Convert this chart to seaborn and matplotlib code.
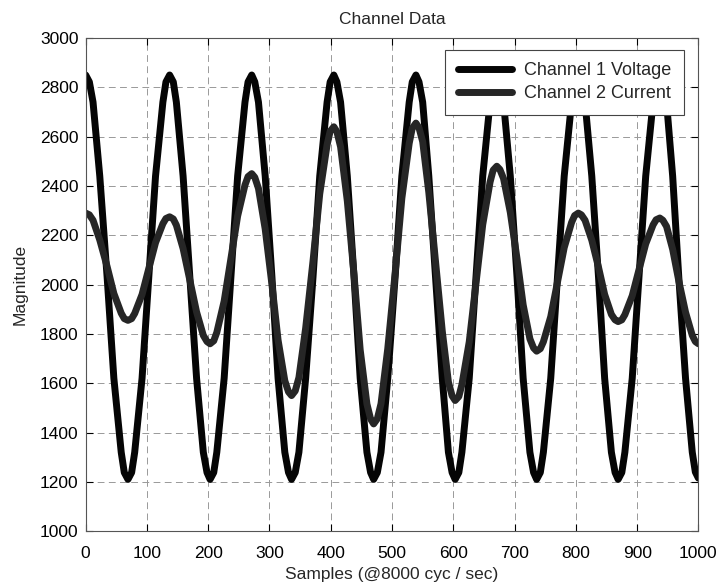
import numpy as np
import pandas as pd
import matplotlib
matplotlib.use("Agg")
import matplotlib.pyplot as plt
import seaborn as sns

# Sample positions (extremes plus intermediate points)
samples = [0, 6, 12, 23, 35, 46, 58, 63, 69,
           75, 80, 92, 103, 114, 126, 131, 137,
           143, 148, 159, 170, 181, 192, 198, 203,
           209, 214, 226, 237, 248, 260, 265, 271,
           276, 282, 293, 304, 314, 325, 331, 336,
           342, 348, 359, 371, 382, 394, 399, 405,
           410, 416, 427, 438, 448, 459, 465, 470,
           476, 482, 493, 505, 516, 528, 533, 539,
           544, 550, 560, 571, 582, 592, 598, 603,
           609, 614, 626, 637, 648, 660, 665, 671,
           676, 682, 693, 704, 714, 725, 731, 736,
           742, 747, 759, 770, 781, 793, 798, 804,
           809, 815, 826, 837, 847, 858, 864, 869,
           875, 880, 892, 903, 914, 926, 931, 937,
           942, 948, 958, 968, 979, 990, 995, 1000]

voltage = [2850, 2822, 2740, 2440, 2030, 1620, 1320, 1238, 1210,
           1238, 1320, 1620, 2030, 2440, 2740, 2822, 2850,
           2822, 2740, 2440, 2030, 1620, 1320, 1238, 1210,
           1238, 1320, 1620, 2030, 2440, 2740, 2822, 2850,
           2822, 2740, 2440, 2030, 1620, 1320, 1238, 1210,
           1238, 1320, 1620, 2030, 2440, 2740, 2822, 2850,
           2822, 2740, 2440, 2030, 1620, 1320, 1238, 1210,
           1238, 1320, 1620, 2030, 2440, 2740, 2822, 2850,
           2822, 2740, 2440, 2030, 1620, 1320, 1238, 1210,
           1238, 1320, 1620, 2030, 2440, 2740, 2822, 2850,
           2822, 2740, 2440, 2030, 1620, 1320, 1238, 1210,
           1238, 1320, 1620, 2030, 2440, 2740, 2822, 2850,
           2822, 2740, 2440, 2030, 1620, 1320, 1238, 1210,
           1238, 1320, 1620, 2030, 2440, 2740, 2822, 2850,
           2822, 2740, 2440, 2030, 1620, 1320, 1240, 1215]

current = [2290, 2283, 2261, 2181, 2073, 1964, 1884, 1862, 1855,
           1862, 1883, 1960, 2065, 2170, 2247, 2268, 2275,
           2266, 2241, 2146, 2018, 1889, 1794, 1769, 1760,
           1772, 1806, 1933, 2105, 2278, 2404, 2438, 2450,
           2435, 2390, 2225, 2000, 1775, 1610, 1565, 1550,
           1569, 1623, 1823, 2095, 2368, 2567, 2622, 2640,
           2620, 2559, 2339, 2038, 1736, 1516, 1455, 1435,
           1456, 1517, 1740, 2045, 2350, 2573, 2634, 2655,
           2636, 2580, 2374, 2093, 1811, 1605, 1549, 1530,
           1546, 1594, 1768, 2005, 2243, 2416, 2464, 2480,
           2467, 2430, 2293, 2105, 1918, 1780, 1743, 1730,
           1740, 1768, 1870, 2010, 2150, 2252, 2280, 2290,
           2283, 2261, 2180, 2070, 1960, 1879, 1857, 1850,
           1857, 1878, 1955, 2060, 2165, 2242, 2263, 2270,
           2261, 2236, 2143, 2015, 1888, 1794, 1769, 1760]

series_names = ["Channel 1 Voltage", "Channel 2 Current"]
x_ticks = [0, 100, 200, 300, 400, 500, 600, 700, 800, 900, 1000]
y_ticks = [1000, 1200, 1400, 1600, 1800, 2000, 2200, 2400, 2600, 2800, 3000]

df = pd.concat([
    pd.DataFrame({"Samples": samples, "Magnitude": voltage, "Series": series_names[0]}),
    pd.DataFrame({"Samples": samples, "Magnitude": current, "Series": series_names[1]}),
], ignore_index=True)

sns.set_theme(style="white")
plt.rcParams["font.family"] = ["Liberation Sans", "DejaVu Sans"]

fig = plt.figure(figsize=(7.2, 5.85), dpi=100)
ax = fig.add_axes([0.119, 0.092, 0.851, 0.843])

LW = 5.0
sns.lineplot(data=df, x="Samples", y="Magnitude", hue="Series",
             hue_order=series_names,
             palette={series_names[0]: "#050505", series_names[1]: "#262626"},
             estimator=None, sort=False, linewidth=LW, ax=ax,
             solid_joinstyle="round", solid_capstyle="round")

ax.set_xlim(0, 1000)
ax.set_ylim(1000, 3000)
ax.set_xticks(x_ticks)
ax.set_yticks(y_ticks)
ax.tick_params(direction="in", length=5, width=0.8, colors="black",
               labelsize=12.5, top=True, right=True, bottom=True, left=True)
ax.tick_params(axis="x", pad=11)
ax.tick_params(axis="y", pad=5)
ax.grid(True, color="#999999", linestyle=(0, (7, 4.5)), linewidth=0.7)
ax.set_axisbelow(True)
for s in ax.spines.values():
    s.set_color("#555555")
    s.set_linewidth(0.8)

ax.set_title("Channel Data", fontsize=12.5, pad=10)
ax.set_xlabel("Samples (@8000 cyc / sec)", fontsize=12.5, labelpad=4)
ax.set_ylabel("Magnitude", fontsize=12.5, labelpad=9)

leg = ax.legend(loc="upper right", bbox_to_anchor=(0.977, 0.976),
                borderaxespad=0, fontsize=13, handlelength=3.0,
                handletextpad=0.7, frameon=True, fancybox=False,
                framealpha=1, edgecolor="#444444", borderpad=0.7,
                labelspacing=0.3)
leg.get_frame().set_linewidth(0.8)
for line in leg.get_lines():
    line.set_linewidth(LW)

fig.savefig("out.png", dpi=100)
